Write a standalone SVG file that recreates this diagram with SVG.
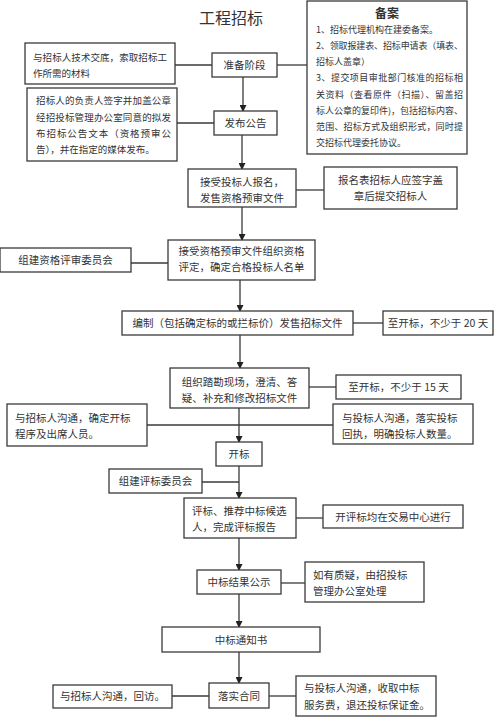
<svg xmlns="http://www.w3.org/2000/svg" width="500" height="717" viewBox="0 0 500 717">
<style>
.b{fill:#fff;stroke:#3a3a3a;stroke-width:1.3}
.t{font-family:"Noto Sans CJK SC","Noto Sans",sans-serif;font-size:10.5px;fill:#333}
.m{font-family:"Noto Sans CJK SC","Noto Sans",sans-serif;font-size:9.5px;fill:#333}
.s{font-family:"Noto Sans CJK SC","Noto Sans",sans-serif;font-size:9px;fill:#333}
.c{text-anchor:middle}
.l{stroke:#3a3a3a;stroke-width:1.3;fill:none}
.a{stroke:#3a3a3a;stroke-width:1.3;fill:none;marker-end:url(#ah)}
</style>
<defs>
<marker id="ah" markerWidth="7" markerHeight="7" refX="6" refY="3.5" orient="auto" markerUnits="userSpaceOnUse">
<path d="M0,0 L7,3.5 L0,7 Z" fill="#222"/>
</marker>
</defs>
<rect width="500" height="717" fill="#fff"/>
<text x="231" y="24" class="t c" style="font-size:16px">工程招标</text>

<g id="connectors">
<line class="a" x1="243" y1="77" x2="243" y2="111"/>
<line class="a" x1="242" y1="135" x2="242" y2="169"/>
<line class="a" x1="242" y1="207" x2="242" y2="240"/>
<line class="a" x1="240" y1="280" x2="240" y2="311"/>
<line class="a" x1="240" y1="335" x2="240" y2="368"/>
<line class="a" x1="239" y1="408" x2="239" y2="442"/>
<line class="a" x1="239" y1="466" x2="239" y2="498"/>
<line class="a" x1="239" y1="538" x2="239" y2="570"/>
<line class="a" x1="239" y1="594" x2="239" y2="627"/>
<line class="a" x1="239" y1="652" x2="239" y2="683"/>
<line class="l" x1="175" y1="65" x2="212" y2="65"/>
<line class="l" x1="277" y1="65" x2="307" y2="65"/>
<line class="l" x1="177" y1="123" x2="214" y2="123"/>
<line class="l" x1="296" y1="190" x2="324" y2="190"/>
<line class="l" x1="131" y1="263" x2="168" y2="263"/>
<line class="l" x1="353" y1="323" x2="383" y2="323"/>
<line class="l" x1="309" y1="387" x2="336" y2="387"/>
<line class="l" x1="147" y1="425" x2="333" y2="425"/>
<line class="l" x1="202" y1="482" x2="239" y2="482"/>
<line class="l" x1="296" y1="518" x2="323" y2="518"/>
<line class="l" x1="281" y1="583" x2="305" y2="583"/>
<line class="l" x1="172" y1="696" x2="209" y2="696"/>
<line class="l" x1="269" y1="696" x2="296" y2="696"/>
</g>

<g id="n-jiaodi">
<rect class="b" x="25" y="43" width="150" height="41"/>
<text class="m" x="33" y="61" textLength="134" lengthAdjust="spacing">与招标人技术交底，索取招标工</text>
<text class="m" x="33" y="77">作所需的材料</text>
</g>

<g id="n-qianzi">
<rect class="b" x="27" y="88" width="150" height="73"/>
<text class="m" x="36" y="104" textLength="135" lengthAdjust="spacing">招标人的负责人签字并加盖公章</text>
<text class="m" x="36" y="121" textLength="135" lengthAdjust="spacing">经招投标管理办公室同意的拟发</text>
<text class="m" x="36" y="137" textLength="135" lengthAdjust="spacing">布招标公告文本（资格预审公</text>
<text class="m" x="36" y="153">告），并在指定的媒体发布。</text>
</g>

<g id="n-zhunbei">
<rect class="b" x="212" y="53" width="65" height="24"/>
<text class="t c" x="244.5" y="69">准备阶段</text>
</g>

<g id="n-fabu">
<rect class="b" x="214" y="111" width="63" height="24"/>
<text class="t c" x="245.5" y="127">发布公告</text>
</g>

<g id="n-beian">
<rect class="b" x="307" y="1" width="160" height="153"/>
<text class="t c" x="387" y="18" style="font-size:12px;font-weight:bold">备案</text>
<text class="s" x="316" y="33">1、招标代理机构在建委备案。</text>
<text class="s" x="316" y="49" textLength="147" lengthAdjust="spacing">2、领取报建表、招标申请表（填表、</text>
<text class="s" x="316" y="65">招标人盖章）</text>
<text class="s" x="316" y="81" textLength="147" lengthAdjust="spacing">3、提交项目审批部门核准的招标相</text>
<text class="s" x="316" y="98" textLength="147" lengthAdjust="spacing">关资料（查看原件（扫描）、留盖招</text>
<text class="s" x="316" y="114" textLength="147" lengthAdjust="spacing">标人公章的复印件)，包括招标内容、</text>
<text class="s" x="316" y="130" textLength="147" lengthAdjust="spacing">范围、招标方式及组织形式，同时提</text>
<text class="s" x="316" y="146">交招标代理委托协议。</text>
</g>

<g id="n-baoming">
<rect class="b" x="188" y="169" width="108" height="38"/>
<text class="t c" x="242" y="186">接受投标人报名，</text>
<text class="t c" x="242" y="202">发售资格预审文件</text>
</g>

<g id="n-baomingbiao">
<rect class="b" x="324" y="167" width="133" height="42"/>
<text class="t c" x="390.5" y="184">报名表招标人应签字盖</text>
<text class="t c" x="390.5" y="200">章后提交招标人</text>
</g>

<g id="n-ziges">
<rect class="b" x="168" y="240" width="147" height="40"/>
<text class="t c" x="241.5" y="255">接受资格预审文件组织资格</text>
<text class="t c" x="241.5" y="271">评定，确定合格投标人名单</text>
</g>

<g id="n-zijian">
<rect class="b" x="0" y="248" width="131" height="24"/>
<text class="t c" x="65.5" y="264">组建资格评审委员会</text>
</g>

<g id="n-bianzhi">
<rect class="b" x="122" y="311" width="231" height="24"/>
<text class="t c" x="237.5" y="327">编制（包括确定标的或拦标价）发售招标文件</text>
</g>

<g id="n-20tian">
<rect class="b" x="383" y="311" width="110" height="24"/>
<text class="t c" x="438" y="327">至开标，不少于 20 天</text>
</g>

<g id="n-takan">
<rect class="b" x="170" y="368" width="139" height="40"/>
<text class="t c" x="239.5" y="386">组织踏勘现场，澄清、答</text>
<text class="t c" x="239.5" y="402">疑、补充和修改招标文件</text>
</g>

<g id="n-15tian">
<rect class="b" x="336" y="375" width="125" height="24"/>
<text class="t c" x="398.5" y="391">至开标，不少于 15 天</text>
</g>

<g id="n-goutong1">
<rect class="b" x="7" y="404" width="140" height="42"/>
<text class="t" x="15" y="422">与招标人沟通，确定开标</text>
<text class="t" x="15" y="438">程序及出席人员。</text>
</g>

<g id="n-goutong2">
<rect class="b" x="333" y="404" width="140" height="40"/>
<text class="t" x="342" y="422">与投标人沟通，落实投标</text>
<text class="t" x="342" y="438">回执，明确投标人数量。</text>
</g>

<g id="n-kaibiao">
<rect class="b" x="216" y="442" width="46" height="24"/>
<text class="t c" x="239" y="458">开标</text>
</g>

<g id="n-pingwei">
<rect class="b" x="109" y="469" width="93" height="24"/>
<text class="t c" x="155.5" y="485">组建评标委员会</text>
</g>

<g id="n-pingbiao">
<rect class="b" x="184" y="498" width="112" height="40"/>
<text class="t" x="192" y="515">评标、推荐中标候选</text>
<text class="t" x="192" y="531">人，完成评标报告</text>
</g>

<g id="n-jiaoyi">
<rect class="b" x="323" y="505" width="140" height="23"/>
<text class="t c" x="393" y="521">开评标均在交易中心进行</text>
</g>

<g id="n-gongshi">
<rect class="b" x="197" y="570" width="84" height="24"/>
<text class="t c" x="239" y="586">中标结果公示</text>
</g>

<g id="n-zhiyi">
<rect class="b" x="305" y="562" width="119" height="40"/>
<text class="t" x="313" y="579">如有质疑，由招投标</text>
<text class="t" x="313" y="595">管理办公室处理</text>
</g>

<g id="n-tongzhi">
<rect class="b" x="162" y="627" width="158" height="25"/>
<text class="t c" x="241" y="644">中标通知书</text>
</g>

<g id="n-hetong">
<rect class="b" x="209" y="683" width="60" height="25"/>
<text class="t c" x="239" y="700">落实合同</text>
</g>

<g id="n-huifang">
<rect class="b" x="53" y="685" width="119" height="23"/>
<text class="t c" x="112.5" y="700">与招标人沟通，回访。</text>
</g>

<g id="n-fuwufei">
<rect class="b" x="296" y="676" width="140" height="40"/>
<text class="t" x="304" y="692">与投标人沟通，收取中标</text>
<text class="t" x="304" y="709">服务费，退还投标保证金。</text>
</g>
</svg>
